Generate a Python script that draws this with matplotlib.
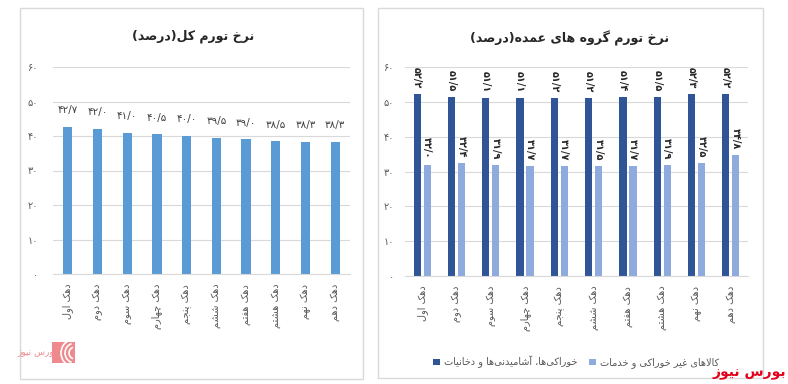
import matplotlib

matplotlib.use("Agg")
import matplotlib.pyplot as plt
import numpy as np
from matplotlib.patches import Rectangle, Arc

# ---- data ----
DECILES = ["دهک اول", "دهک دوم", "دهک سوم", "دهک چهارم", "دهک پنجم",
           "دهک ششم", "دهک هفتم", "دهک هشتم", "دهک نهم", "دهک دهم"]
TOTAL = [42.7, 42.0, 41.0, 40.5, 40.0, 39.5, 39.0, 38.5, 38.3, 38.3]
FOOD = [52.2, 51.5, 51.1, 51.1, 51.2, 51.2, 51.4, 51.5, 52.3, 52.2]
NONFOOD = [32.0, 32.4, 31.9, 31.7, 31.7, 31.5, 31.7, 31.9, 32.5, 34.8]
Y_TICKS = [0, 10, 20, 30, 40, 50, 60]

TITLE_LEFT = "نرخ تورم کل(درصد)"
TITLE_RIGHT = "نرخ تورم گروه های عمده(درصد)"
LEGEND_FOOD = "خوراکی\u200cها، آشامیدنی\u200cها و دخانیات"
LEGEND_NONFOOD = "کالاهای غیر خوراکی و خدمات"
BRAND = "بورس نیوز"

C_TOTAL = "#5B9BD5"
C_FOOD = "#2F5597"
C_NONFOOD = "#8FAADC"
C_GRID = "#D9D9D9"
C_TEXT = "#595959"

# ---- minimal Persian shaping (matplotlib has no complex text layout) ----
_FORMS = {
    "ا": (0xFE8D, 0xFE8E, None, None),
    "آ": (0xFE81, 0xFE82, None, None),
    "ب": (0xFE8F, 0xFE90, 0xFE91, 0xFE92),
    "پ": (0xFB56, 0xFB57, 0xFB58, 0xFB59),
    "ت": (0xFE95, 0xFE96, 0xFE97, 0xFE98),
    "ج": (0xFE9D, 0xFE9E, 0xFE9F, 0xFEA0),
    "چ": (0xFB7A, 0xFB7B, 0xFB7C, 0xFB7D),
    "خ": (0xFEA5, 0xFEA6, 0xFEA7, 0xFEA8),
    "د": (0xFEA9, 0xFEAA, None, None),
    "ر": (0xFEAD, 0xFEAE, None, None),
    "ز": (0xFEAF, 0xFEB0, None, None),
    "س": (0xFEB1, 0xFEB2, 0xFEB3, 0xFEB4),
    "ش": (0xFEB5, 0xFEB6, 0xFEB7, 0xFEB8),
    "ص": (0xFEB9, 0xFEBA, 0xFEBB, 0xFEBC),
    "ع": (0xFEC9, 0xFECA, 0xFECB, 0xFECC),
    "غ": (0xFECD, 0xFECE, 0xFECF, 0xFED0),
    "ف": (0xFED1, 0xFED2, 0xFED3, 0xFED4),
    "ک": (0xFB8E, 0xFB8F, 0xFB90, 0xFB91),
    "گ": (0xFB92, 0xFB93, 0xFB94, 0xFB95),
    "ل": (0xFEDD, 0xFEDE, 0xFEDF, 0xFEE0),
    "م": (0xFEE1, 0xFEE2, 0xFEE3, 0xFEE4),
    "ن": (0xFEE5, 0xFEE6, 0xFEE7, 0xFEE8),
    "و": (0xFEED, 0xFEEE, None, None),
    "ه": (0xFEE9, 0xFEEA, 0xFEEB, 0xFEEC),
    "ی": (0xFBFC, 0xFBFD, 0xFBFE, 0xFBFF),
}
_LAMALEF = {"ا": (0xFEFB, 0xFEFC), "آ": (0xFEF5, 0xFEF6)}
_MIRROR = {"(": ")", ")": "("}


def _joins_next(ch):
    return ch in _FORMS and _FORMS[ch][2] is not None


def fa(text):
    text = text.replace("\u0643", "ک").replace("\u064A", "ی")
    out = []
    i = 0
    n = len(text)
    while i < n:
        ch = text[i]
        if ch not in _FORMS:
            if ch != "\u200c":
                out.append(ch)
            i += 1
            continue
        prev = text[i - 1] if i > 0 else ""
        prev_j = _joins_next(prev)
        nxt = text[i + 1] if i + 1 < n else ""
        if ch == "ل" and nxt in _LAMALEF:
            iso, fin = _LAMALEF[nxt]
            out.append(chr(fin if prev_j else iso))
            i += 2
            continue
        next_j = _joins_next(ch) and nxt in _FORMS
        iso, fin, ini, med = _FORMS[ch]
        if prev_j and next_j:
            code = med
        elif prev_j:
            code = fin
        elif next_j:
            code = ini
        else:
            code = iso
        out.append(chr(code))
        i += 1
    return "".join(_MIRROR.get(c, c) for c in reversed(out))


def fa_num(v, decimals=1):
    s = f"{v:.{decimals}f}".replace(".", "/")
    return s.translate(str.maketrans("0123456789", "۰۱۲۳۴۵۶۷۸۹"))


plt.rcParams["font.family"] = ["DejaVu Sans"]

fig = plt.figure(figsize=(7.88, 3.84), dpi=100)
W, H = 788, 384


def fx(px):
    return px / W


def fy(py):
    return 1 - py / H


# panel frames
for x0, x1, y0, y1 in [(20, 363, 8, 379), (378, 763, 8, 378)]:
    fig.add_artist(Rectangle((fx(x0), fy(y1)), fx(x1 - x0), (y1 - y0) / H,
                             transform=fig.transFigure, fill=False,
                             edgecolor=C_GRID, linewidth=1.0))


def style_axis(ax, ypad):
    ax.set_ylim(0, 60)
    ax.set_xlim(-0.5, 9.5)
    ax.set_yticks(Y_TICKS)
    ax.set_yticklabels([fa_num(t, 0) for t in Y_TICKS], fontsize=7, color=C_TEXT)
    ax.grid(axis="y", color=C_GRID, linewidth=0.8)
    ax.set_axisbelow(True)
    for side in ["top", "right", "left"]:
        ax.spines[side].set_visible(False)
    ax.spines["bottom"].set_color(C_GRID)
    ax.tick_params(axis="both", length=0)
    ax.tick_params(axis="y", pad=ypad)
    ax.set_xticks(np.arange(len(DECILES)))
    ax.set_xticklabels([fa(d) for d in DECILES], rotation=90, fontsize=7,
                       color=C_TEXT, va="top", ha="center")
    ax.tick_params(axis="x", pad=7)


# ---- left chart: total inflation ----
ax1 = fig.add_axes([fx(53), fy(274), fx(350 - 53), (274 - 67) / H])
x = np.arange(len(DECILES))
bars = ax1.bar(x, TOTAL, width=0.31, color=C_TOTAL)
style_axis(ax1, 11)
for b, v in zip(bars, TOTAL):
    ax1.annotate(fa_num(v), (b.get_x() + b.get_width() / 2, v), xytext=(0, 12),
                 textcoords="offset points", ha="center", va="center",
                 fontsize=7.5, color="#404040")
fig.text(fx(193), fy(36), fa(TITLE_LEFT), ha="center", va="center",
         fontsize=9, fontweight="bold", color="#262626")

# ---- right chart: food vs non-food ----
ax2 = fig.add_axes([fx(405), fy(276), fx(748 - 405), (276 - 67) / H])
bw = 0.21
b_food = ax2.bar(x - 0.145, FOOD, width=bw, color=C_FOOD, label=fa(LEGEND_FOOD))
b_non = ax2.bar(x + 0.145, NONFOOD, width=bw, color=C_NONFOOD, label=fa(LEGEND_NONFOOD))
style_axis(ax2, 8)
for group in (b_food, b_non):
    for b in group:
        v = b.get_height()
        ax2.annotate(fa_num(v), (b.get_x() + b.get_width() / 2, v), xytext=(0, 4),
                     textcoords="offset points", ha="center", va="bottom",
                     rotation=270, fontsize=7, fontweight="bold", color="#262626")
fig.text(fx(570), fy(38), fa(TITLE_RIGHT), ha="center", va="center",
         fontsize=9, fontweight="bold", color="#262626")
fig.legend(handles=[b_food, b_non], loc="center", bbox_to_anchor=(fx(576), fy(362)),
           ncol=2, frameon=False, fontsize=7, handlelength=0.7, handleheight=0.7,
           handletextpad=0.4, columnspacing=1.2, labelcolor=C_TEXT)

# ---- logo marks ----
fig.add_artist(Rectangle((fx(52), fy(363)), fx(23), 21 / H, transform=fig.transFigure,
                         facecolor="#EE8A8E", edgecolor="none"))
for r in (6, 10, 14):
    fig.add_artist(Arc((fx(75), fy(353)), fx(r * 2), r * 2 / H, theta1=100, theta2=260,
                       transform=fig.transFigure, color="white", linewidth=1.2))
fig.text(fx(37), fy(353), fa(BRAND), ha="center", va="center", fontsize=6.5,
         color="#EE8A8E")
fig.text(fx(786), fy(373), fa(BRAND), ha="right", va="center", fontsize=10,
         fontweight="bold", color="#E3001B")

fig.savefig("out.png", dpi=100)
